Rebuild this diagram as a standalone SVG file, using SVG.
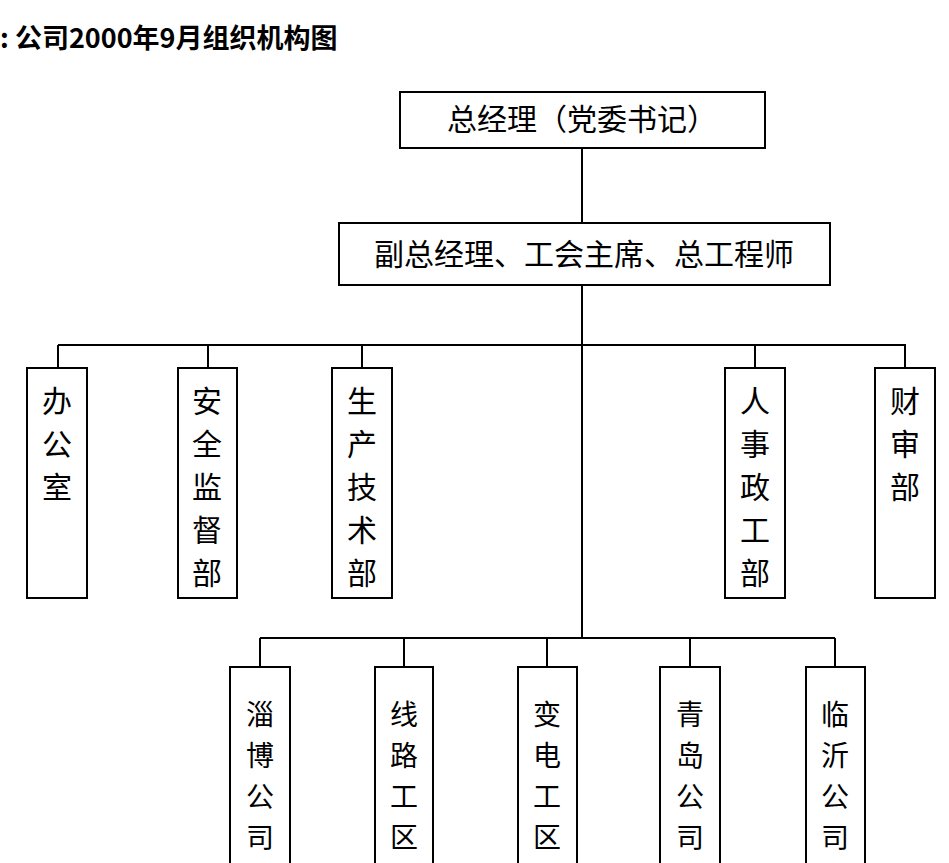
<svg xmlns="http://www.w3.org/2000/svg" width="949" height="863" viewBox="0 0 949 863">
<style>
.b{fill:#fff;stroke:#000;stroke-width:2}
.t{font-family:"Noto Sans CJK SC","Liberation Serif",sans-serif;font-size:30px;fill:#000}
.v{font-family:"Noto Sans CJK SC","Liberation Serif",sans-serif;font-size:30px;fill:#000;text-anchor:middle}
.w{font-family:"Noto Sans CJK SC","Liberation Serif",sans-serif;font-size:28px;fill:#000;text-anchor:middle}
.c{stroke:#000;stroke-width:2;fill:none}
</style>
<rect width="949" height="863" fill="#fff"/>
<text x="0" y="48" style="font-family:'Noto Sans CJK SC',sans-serif;font-size:27px;font-weight:bold">:  公司2000年9月组织机构图</text>
<g id="connectors">
<path class="c" d="M582 148V223M582 285V638M58 345H906M58 345V368M208 345V368M362 345V368M755 345V368M905 345V368M260 638H835M260 638V667M404 638V667M547 638V667M690 638V667M835 638V667"/>
</g>
<g id="n-gm"><rect class="b" x="400" y="92" width="365" height="56"/><text class="t" x="582" y="130" text-anchor="middle">总经理（党委书记）</text></g>
<g id="n-vice"><rect class="b" x="339" y="223" width="491" height="62"/><text class="t" x="584" y="265" text-anchor="middle">副总经理、工会主席、总工程师</text></g>
<g id="n-office"><rect class="b" x="27" y="368" width="60" height="230"/><text class="v" x="57" y="412">办</text><text class="v" x="57" y="455">公</text><text class="v" x="57" y="498">室</text></g>
<g id="n-safety"><rect class="b" x="178" y="368" width="59" height="230"/><text class="v" x="207" y="412">安</text><text class="v" x="207" y="455">全</text><text class="v" x="207" y="498">监</text><text class="v" x="207" y="541">督</text><text class="v" x="207" y="584">部</text></g>
<g id="n-prod"><rect class="b" x="332" y="368" width="60" height="230"/><text class="v" x="362" y="412">生</text><text class="v" x="362" y="455">产</text><text class="v" x="362" y="498">技</text><text class="v" x="362" y="541">术</text><text class="v" x="362" y="584">部</text></g>
<g id="n-hr"><rect class="b" x="725" y="368" width="60" height="230"/><text class="v" x="755" y="412">人</text><text class="v" x="755" y="455">事</text><text class="v" x="755" y="498">政</text><text class="v" x="755" y="541">工</text><text class="v" x="755" y="584">部</text></g>
<g id="n-fin"><rect class="b" x="875" y="368" width="60" height="230"/><text class="v" x="905" y="412">财</text><text class="v" x="905" y="455">审</text><text class="v" x="905" y="498">部</text></g>
<g id="n-zibo"><rect class="b" x="230" y="667" width="60" height="205"/><text class="w" x="260" y="725">淄</text><text class="w" x="260" y="766">博</text><text class="w" x="260" y="807">公</text><text class="w" x="260" y="848">司</text></g>
<g id="n-line"><rect class="b" x="375" y="667" width="58" height="205"/><text class="w" x="404" y="725">线</text><text class="w" x="404" y="766">路</text><text class="w" x="404" y="807">工</text><text class="w" x="404" y="848">区</text></g>
<g id="n-sub"><rect class="b" x="518" y="667" width="59" height="205"/><text class="w" x="547" y="725">变</text><text class="w" x="547" y="766">电</text><text class="w" x="547" y="807">工</text><text class="w" x="547" y="848">区</text></g>
<g id="n-qd"><rect class="b" x="660" y="667" width="60" height="205"/><text class="w" x="690" y="725">青</text><text class="w" x="690" y="766">岛</text><text class="w" x="690" y="807">公</text><text class="w" x="690" y="848">司</text></g>
<g id="n-ly"><rect class="b" x="806" y="667" width="59" height="205"/><text class="w" x="835" y="725">临</text><text class="w" x="835" y="766">沂</text><text class="w" x="835" y="807">公</text><text class="w" x="835" y="848">司</text></g>
</svg>
